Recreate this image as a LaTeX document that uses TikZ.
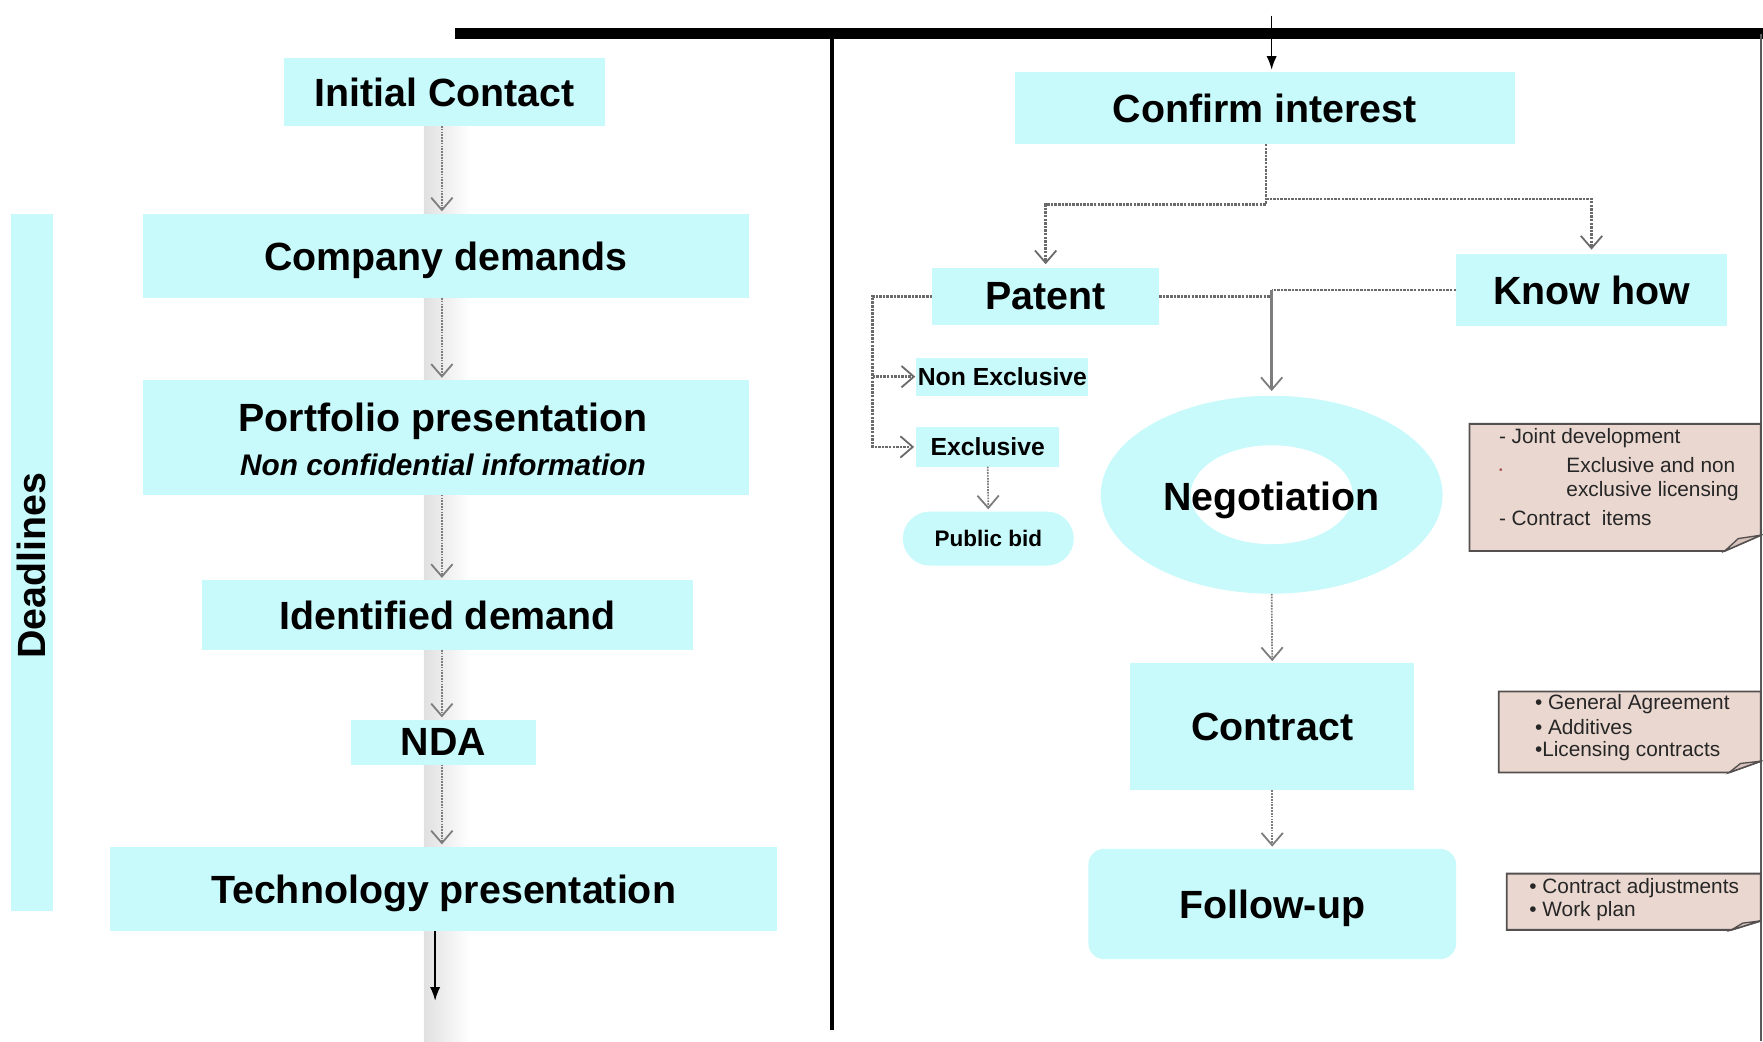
\documentclass[tikz,border=0pt]{standalone}
\usepackage{fontspec}
\setmainfont{Liberation Sans}
\usetikzlibrary{arrows.meta,shapes.geometric,calc}
\definecolor{cyanbox}{RGB}{200,250,252}
\definecolor{notefill}{RGB}{234,216,208}
\definecolor{noteedge}{RGB}{85,80,80}
\definecolor{arrgray}{RGB}{125,125,125}
\definecolor{foldfill}{RGB}{215,195,188}
\newcommand\bigfnt{\fontsize{35}{42}\selectfont\bfseries}
\newcommand\itfnt{\fontsize{26.5}{30}\selectfont\bfseries\itshape}
\newcommand\smallfnt{\fontsize{22}{26}\selectfont\bfseries}
\newcommand\notefnt{\fontsize{18.5}{21}\selectfont}
\begin{document}
\begin{tikzpicture}[x=1pt,y=-1pt,
  box/.style={fill=cyanbox, inner sep=0pt, outer sep=0pt, text depth=0pt, font=\bigfnt},
  sbox/.style={fill=cyanbox, inner sep=0pt, outer sep=0pt, text depth=0pt, font=\smallfnt},
  btext/.style={inner sep=0pt, text depth=0pt, font=\bigfnt},
  itext/.style={inner sep=0pt, text depth=0pt, font=\itfnt},
  vtip/.style={-{Straight Barb[length=11pt,width=19pt,line width=1.6pt]}},
  darr/.style={draw=arrgray, densely dotted, line width=1.5pt, vtip, shorten >=2pt},
  dline/.style={draw=arrgray!85!black, densely dotted, line width=2.2pt},
  sarr/.style={draw=arrgray, line width=2.2pt, vtip},
  blackarr/.style={draw=black, line width=1.3pt, -{Latex[length=12pt,width=9pt]}},
  notebg/.style={inner sep=0pt, outer sep=0pt, draw=none, anchor=north west},
  notestyle/.style={fill=notefill, draw=noteedge, line width=1.6pt, line join=miter},
  foldstyle/.style={fill=foldfill, draw=noteedge, line width=1.2pt},
  ntext/.style={anchor=west, inner sep=0pt, font=\notefnt, text=black!85}
]
\useasboundingbox (0,0) rectangle (1568,926);
\fill[white] (0,0) rectangle (1568,926);

% shadow strip under the left column arrows
\shade[left color=gray!24, right color=white] (377,112) rectangle (418,926);

% frame lines
\draw[line width=10pt] (405,30) -- (1568,30);
\draw[line width=1.5pt, gray!70!black] (1566,30) -- (1566,926);
\draw[line width=3pt] (740,30) -- (740,916);

% ---------- left column ----------
\node[box, minimum width=37pt, minimum height=620pt] (dl) at (28.5,500) {};
\node[btext, rotate=90] (dlt) at (28,503) {Deadlines};

\node[box, minimum width=285pt, minimum height=60pt] (ic) at (395.5,82) {Initial Contact};
\node[box, minimum width=539pt, minimum height=75pt] (cd) at (396.5,227.5) {Company demands};
\node[box, minimum width=539pt, minimum height=102pt] (pp) at (396.5,389) {};
\node[btext] (ppt) at (394,371) {Portfolio presentation};
\node[itext] (ppi) at (394,413) {Non confidential information};
\node[box, minimum width=436pt, minimum height=62pt] (id) at (398,547) {Identified demand};
\node[box, minimum width=165pt, minimum height=40pt] (nda) at (394.5,660) {NDA};
\node[box, minimum width=593pt, minimum height=75pt] (tp) at (394.5,790.5) {Technology presentation};

\coordinate (ax) at (393,0);
\draw[darr] (ic.south -| ax) -- (cd.north -| ax);
\draw[darr] (cd.south -| ax) -- (pp.north -| ax);
\draw[darr] (pp.south -| ax) -- (id.north -| ax);
\draw[darr] (id.south -| ax) -- (nda.north -| ax);
\draw[darr] (nda.south -| ax) -- (tp.north -| ax);
\coordinate (tend) at (387,890);
\draw[blackarr] (tend |- tp.south) -- (tend);

% ---------- right column ----------
\node[box, minimum width=444pt, minimum height=64pt] (ci) at (1125,96) {Confirm interest};
\coordinate (tin) at (1131,14);
\draw[blackarr] (tin) -- ([yshift=2pt]tin |- ci.north);

\node[box, minimum width=202pt, minimum height=51pt] (pat) at (930,263.5) {Patent};
\node[box, minimum width=241pt, minimum height=64pt] (kh) at (1415.5,258) {Know how};

\node[ellipse, fill=cyanbox, minimum width=304pt, minimum height=176pt, inner sep=0pt] (neg) at (1131,440) {};
\fill[white] (neg.center) ellipse [x radius=72pt, y radius=44pt];
\node[btext] (negt) at (1131,441) {Negotiation};

\node[box, minimum width=253pt, minimum height=113pt] (con) at (1131.5,646.5) {Contract};
\node[box, rounded corners=14pt, minimum width=327pt, minimum height=98pt] (fu) at (1131.5,804) {Follow-up};

\node[sbox, minimum width=153pt, minimum height=34pt] (ne) at (891.5,335) {Non Exclusive};
\node[sbox, minimum width=127pt, minimum height=35pt] (ex) at (878.5,397.5) {Exclusive};
\node[sbox, font=\fontsize{20}{24}\selectfont\bfseries, rounded corners=24pt, minimum width=152pt, minimum height=48pt] (pb) at (879,479) {Public bid};

\coordinate (cx) at (1126,0);
\draw[dline, vtip, shorten >=3pt] (ci.south -| cx) -- (1126,182) -| (pat.north);
\draw[dline, vtip, shorten >=4pt] (1126,177) -| (kh.north);

\coordinate (jn) at (1131,258);
\draw[dline] (kh.west) -- (jn);
\draw[dline] (pat.east) -- (pat.east -| jn);
\draw[sarr, shorten >=4pt] (jn) -- (neg.north);

\coordinate (lx) at (776,0);
\draw[dline, vtip, shorten >=2pt] (pat.west) -| (lx |- ex.west) -- (ex.west);
\draw[dline, vtip, shorten >=1pt] (lx |- ne.west) -- (ne.west);
\draw[darr] (ex.south) -- (pb.north);
\draw[darr] (neg.south) -- (con.north);
\draw[darr] (con.south) -- (fu.north);

% ---------- notes ----------
\node[notebg, minimum width=259pt, minimum height=113pt] (n1) at (1307,377) {};
\filldraw[notestyle] (n1.north west) -- (n1.north east) -- ([yshift=14pt]n1.south east) -- ([xshift=-32pt]n1.south east) -- (n1.south west) -- cycle;
\filldraw[foldstyle] ([xshift=-32pt]n1.south east) -- ([xshift=-20pt,yshift=11pt]n1.south east) -- ([yshift=14pt]n1.south east) -- cycle;
\node[ntext] (n1a) at (1333,390) {- Joint development};
\node[ntext, text=red!35!gray, font=\fontsize{9}{9}\selectfont] (n1b) at (1333,419) {•};
\node[ntext] (n1c) at (1393,414) {Exclusive and non};
\node[ntext] (n1d) at (1393,437) {exclusive licensing};
\node[ntext] (n1e) at (1333,461) {- Contract\ \ items};

\node[notebg, minimum width=233pt, minimum height=72pt] (n2) at (1333,615) {};
\filldraw[notestyle] (n2.north west) -- (n2.north east) -- ([yshift=10pt]n2.south east) -- ([xshift=-28pt]n2.south east) -- (n2.south west) -- cycle;
\filldraw[foldstyle] ([xshift=-28pt]n2.south east) -- ([xshift=-18pt,yshift=8pt]n2.south east) -- ([yshift=10pt]n2.south east) -- cycle;
\node[ntext] (n2a) at (1365,626) {• General Agreement};
\node[ntext] (n2b) at (1365,647) {• Additives};
\node[ntext] (n2c) at (1365,668) {•Licensing contracts};

\node[notebg, minimum width=226pt, minimum height=50pt] (n3) at (1340,777) {};
\filldraw[notestyle] (n3.north west) -- (n3.north east) -- ([yshift=8pt]n3.south east) -- ([xshift=-26pt]n3.south east) -- (n3.south west) -- cycle;
\filldraw[foldstyle] ([xshift=-26pt]n3.south east) -- ([xshift=-16pt,yshift=6pt]n3.south east) -- ([yshift=8pt]n3.south east) -- cycle;
\node[ntext] (n3a) at (1360,790) {• Contract adjustments};
\node[ntext] (n3b) at (1360,810) {• Work plan};
\end{tikzpicture}
\end{document}
